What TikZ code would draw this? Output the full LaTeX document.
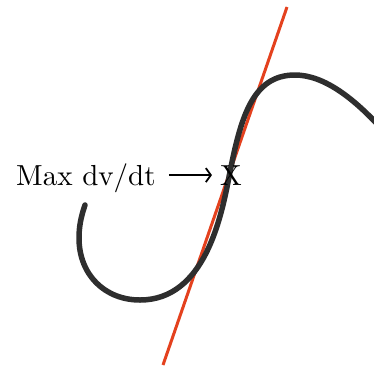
\documentclass[tikz,border=0pt]{standalone}
\usepackage{fontspec}
\setmainfont{lmroman10-regular.otf}
\usetikzlibrary{arrows.meta}
\definecolor{curvegray}{HTML}{2E2E2E}
\definecolor{tanred}{HTML}{E4411E}
\tikzset{
  curve/.style={draw=curvegray, line width=5.5pt, line cap=round, line join=round},
  tangent/.style={draw=tanred, line width=3pt},
  lbl/.style={inner sep=0pt, font=\fontsize{29}{32}\selectfont, text=black},
  pointer/.style={draw=black, line width=1.8pt, -{Straight Barb[length=5pt,width=14pt,line width=1.8pt]}}
}
\begin{document}
\begin{tikzpicture}[x=1pt,y=-1pt]
\useasboundingbox (0,0) rectangle (374,367);
\begin{scope}
\clip (0,0) rectangle (374,367);
\coordinate (t1) at (163,365);
\coordinate (t2) at (287,7);
\draw[tangent] (t1) -- (t2);
\coordinate (c0) at (85,205);
\coordinate (c1) at (79,238);
\coordinate (c2) at (140,300);
\coordinate (c4) at (229,177);
\coordinate (c5) at (295,75);
\coordinate (c6) at (380,127);
\draw[curve] (c0) .. controls (80.5,218) and (79,228) .. (c1)
  .. controls (79,275) and (105,300) .. (c2)
  .. controls (205,300) and (221.3,216.2) .. (c4)
  .. controls (240.5,118) and (252,75) .. (c5)
  .. controls (325,75) and (355,100) .. (c6);
\end{scope}
\node[lbl, anchor=base west] (label) at (16,185) {Max dv/dt};
\node[lbl, anchor=base] (xmark) at (231,185) {X};
\draw[pointer] ([xshift=13pt]label.east |- xmark.center) -- ([xshift=-8pt]xmark.west);
\end{tikzpicture}
\end{document}
